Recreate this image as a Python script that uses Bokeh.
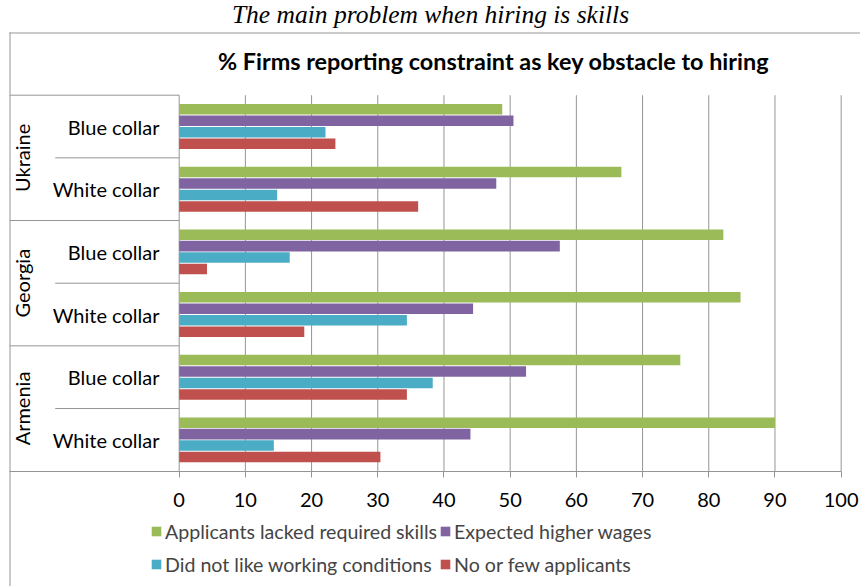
import math
from bokeh.plotting import figure
from bokeh.models import (ColumnDataSource, Range1d, FixedTicker, Label,
                          Legend, LegendItem, BoxAnnotation)
from bokeh.transform import dodge
from bokeh.core.properties import value
from bokeh.embed import file_html
from bokeh.resources import INLINE

# ---------------- data ----------------
countries = ["Ukraine", "Georgia", "Armenia"]
collars = ["Blue collar", "White collar"]
series_names = ["Applicants lacked required skills", "Expected higher wages",
                "Did not like working conditions", "No or few applicants"]
# rows listed top to bottom: Ukraine Blue, Ukraine White, Georgia Blue, Georgia White, Armenia Blue, Armenia White
skills = [48.8, 66.8, 82.2, 84.8, 75.7, 90.0]
wages = [50.5, 47.9, 57.5, 44.4, 52.4, 44.0]
conditions = [22.1, 14.8, 16.7, 34.4, 38.3, 14.3]
applicants = [23.6, 36.1, 4.2, 18.9, 34.4, 30.4]
x_ticks = [0, 10, 20, 30, 40, 50, 60, 70, 80, 90, 100]
page_title = "The main problem when hiring is skills"
chart_title = "% Firms reporting constraint as key obstacle to hiring"

# ---------------- styling ----------------
colors = ["#9BBB59", "#8064A2", "#4BACC6", "#C0504D"]
offsets = [-0.2745, -0.0915, 0.0915, 0.2745]
line_gray = "#959595"
FONT = "Lato"
W, H = 860, 586

rows = [(c, k) for c in countries for k in collars]
n_rows = len(rows)
row_pos = [i + 0.5 for i in range(n_rows)]   # row centres, top to bottom

src = ColumnDataSource(dict(pos=row_pos, skills=skills, wages=wages,
                            conditions=conditions, applicants=applicants))
fields = ["skills", "wages", "conditions", "applicants"]

X0 = -26.99          # left edge of the canvas in value units
X1 = 102.92          # right edge of the canvas in value units
XL = -25.6           # left edge of the chart box
p = figure(width=W, height=H,
           x_range=Range1d(X0, X1),
           y_range=Range1d(7.84, -1.511),
           output_backend="svg", toolbar_location=None,
           min_border=0, min_border_left=0, min_border_right=0,
           min_border_top=0, min_border_bottom=0,
           y_axis_location=None, outline_line_color=None)
p.background_fill_color = "white"
p.border_fill_color = "white"

# x axis drawn along the bottom of the category rows
p.xaxis.fixed_location = n_rows
p.xaxis.bounds = (XL, 100)
p.xaxis.ticker = FixedTicker(ticks=x_ticks)
p.xaxis.axis_line_color = line_gray
p.xaxis.major_tick_line_color = line_gray
p.xaxis.major_tick_out = 6
p.xaxis.major_tick_in = 0
p.xaxis.minor_tick_line_color = None
p.xaxis.major_label_standoff = 16
p.xaxis.major_label_text_font = FONT
p.xaxis.major_label_text_font_size = "20px"
p.xaxis.major_label_text_color = "black"
p.xgrid.visible = False
p.ygrid.visible = False

# vertical grid lines at the ticks, spanning the category rows
p.segment(x0=x_ticks, x1=x_ticks, y0=0, y1=n_rows, line_color=line_gray, line_width=1)

# bars
renderers = []
for f, c, off in zip(fields, colors, offsets):
    r = p.hbar(y=dodge("pos", off), left=0, right=f, height=0.168,
               source=src, fill_color=c, line_color=None)
    renderers.append(r)

# category table lines
p.segment(x0=[-18.73] * 3, x1=[0] * 3, y0=[1, 3, 5], y1=[1, 3, 5],
          line_color=line_gray, line_width=1)
p.segment(x0=[XL] * 3, x1=[0] * 3, y0=[0, 2, 4], y1=[0, 2, 4],
          line_color=line_gray, line_width=1)

# category labels
p.text(x=-2.98, y=row_pos, text=[k for c, k in rows], text_align="right",
       text_baseline="middle", text_font=value(FONT), text_font_size="20px",
       text_color="black")
cty_pos = [row_pos[2 * i] + 0.5 for i in range(len(countries))]
p.text(x=-23.7, y=cty_pos, text=countries, angle=math.pi / 2,
       text_align="center", text_baseline="middle", text_font=value(FONT),
       text_font_size="20px", text_color="black")

# titles (screen units: from the bottom-left of the canvas)
p.add_layout(Label(x=430, y=H - 14, x_units="screen", y_units="screen", text=page_title,
                   text_align="center", text_baseline="middle",
                   text_font="Liberation Serif", text_font_style="italic",
                   text_font_size="25.5px", text_color="black"))
p.add_layout(Label(x=493, y=H - 60, x_units="screen", y_units="screen", text=chart_title,
                   text_align="center", text_baseline="middle",
                   text_font=FONT, text_font_style="bold",
                   text_font_size="23.4px", text_color="black"))

# outer chart box (left and top edges)
p.add_layout(BoxAnnotation(left=9, right=W, top=H - 32, bottom=H - 33,
                           left_units="screen", right_units="screen",
                           top_units="screen", bottom_units="screen",
                           fill_color=line_gray, fill_alpha=1, line_color=None))
p.add_layout(BoxAnnotation(left=9, right=10, top=H - 32, bottom=0,
                           left_units="screen", right_units="screen",
                           top_units="screen", bottom_units="screen",
                           fill_color=line_gray, fill_alpha=1, line_color=None))

# legend
legend = Legend(items=[LegendItem(label=n, renderers=[r]) for n, r in zip(series_names, renderers)],
                location=(150, 6.5), orientation="horizontal", ncols=2,
                glyph_width=12, glyph_height=12, label_standoff=3, spacing=2,
                padding=0, margin=0, border_line_color=None, background_fill_alpha=0,
                label_text_font=FONT, label_text_font_size="19.6px", label_height=31)
p.add_layout(legend)

open("out.html", "w").write(file_html(p, INLINE))
